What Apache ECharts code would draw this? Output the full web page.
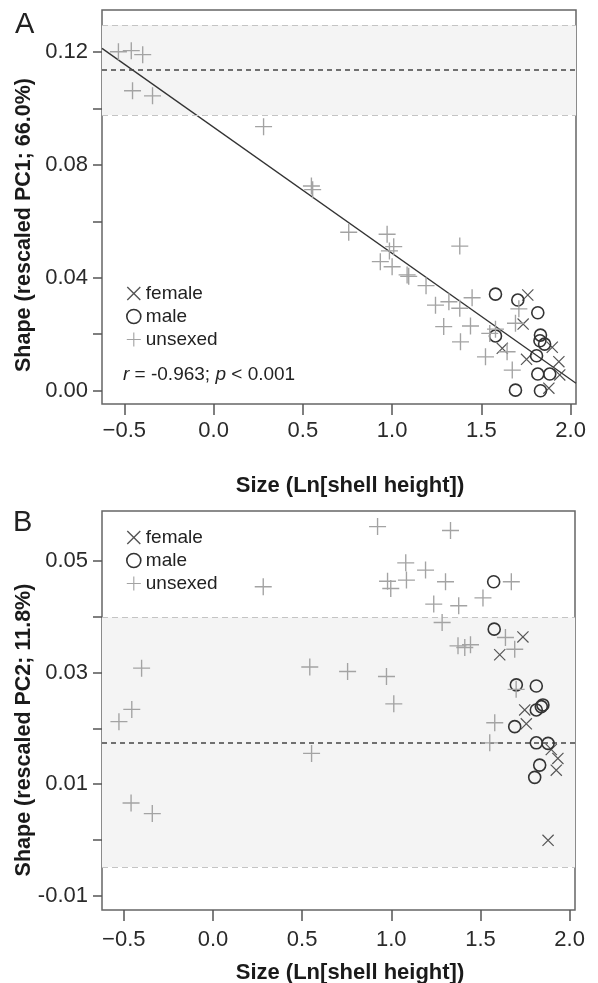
<!DOCTYPE html>
<html><head><meta charset="utf-8">
<script src="https://cdn.jsdelivr.net/npm/echarts@6/dist/echarts.min.js"></script>
<style>html,body{margin:0;padding:0;background:#fff}#c{width:598px;height:983px}</style>
</head><body><div id="c"></div>
<script>
// ---------- Data ----------
// Panel A: Shape (rescaled PC1) vs Size
const femaleA = [[1.760,0.0339],[1.734,0.0236],[1.617,0.0150],[1.753,0.0111],[1.897,0.0154],[1.934,0.0103],[1.939,0.0056],[1.878,0.0009]];
const maleA = [[1.579,0.0342],[1.704,0.0321],[1.816,0.0276],[1.579,0.0194],[1.831,0.0197],[1.828,0.0177],[1.854,0.0165],[1.809,0.0124],[1.816,0.0059],[1.883,0.0059],[1.691,0.0002],[1.831,0.0000]];
const unsexedA = [[-0.533,0.1200],[-0.461,0.1204],[-0.397,0.1190],[-0.454,0.1062],[-0.342,0.1044],[0.280,0.0935],[0.548,0.0725],[0.555,0.0712],[0.757,0.0561],[0.972,0.0554],[1.009,0.0510],[0.985,0.0495],[0.934,0.0457],[1.000,0.0439],[1.084,0.0410],[1.093,0.0405],[1.190,0.0372],[1.243,0.0303],[1.318,0.0315],[1.379,0.0292],[1.448,0.0329],[1.289,0.0227],[1.439,0.0229],[1.383,0.0173],[1.523,0.0120],[1.579,0.0218],[1.547,0.0203],[1.644,0.0138],[1.673,0.0073],[1.710,0.0290],[1.691,0.0239],[1.379,0.0512]];
const fitA = {slope: -0.04467, intercept: 0.0933};
const bandA = [0.0976, 0.1135, 0.1295];   // lower, mean, upper
// Panel B: Shape (rescaled PC2) vs Size
const femaleB = [[1.738,0.0364],[1.608,0.0332],[1.748,0.0233],[1.757,0.0208],[1.897,0.0162],[1.934,0.0146],[1.925,0.0125],[1.879,-0.0001]];
const maleB = [[1.574,0.0463],[1.577,0.0378],[1.701,0.0278],[1.813,0.0276],[1.813,0.0233],[1.841,0.0239],[1.850,0.0242],[1.692,0.0203],[1.813,0.0174],[1.879,0.0173],[1.832,0.0134],[1.804,0.0112]];
const unsexedB = [[0.282,0.0454],[-0.400,0.0308],[-0.455,0.0234],[-0.527,0.0212],[-0.459,0.0066],[-0.340,0.0047],[0.923,0.0562],[1.332,0.0555],[1.081,0.0497],[1.192,0.0484],[0.979,0.0464],[0.997,0.0451],[1.085,0.0466],[1.304,0.0463],[1.673,0.0463],[1.514,0.0434],[1.238,0.0423],[1.378,0.0420],[1.285,0.0390],[1.640,0.0363],[1.692,0.0342],[1.374,0.0348],[1.412,0.0345],[1.444,0.0350],[0.543,0.0310],[0.755,0.0302],[0.973,0.0293],[1.014,0.0244],[1.700,0.0270],[1.580,0.0210],[1.552,0.0174],[0.553,0.0155]];
const bandB = [-0.0049, 0.0175, 0.0399];
// Axis ticks
const xTicks = [-0.5, 0.0, 0.5, 1.0, 1.5, 2.0];
const yTicksA = [0.00, 0.02, 0.04, 0.06, 0.08, 0.10, 0.12];
const yLabelsA = [0.00, 0.04, 0.08, 0.12];
const yTicksB = [-0.01, 0.00, 0.01, 0.02, 0.03, 0.04, 0.05];
const yLabelsB = [-0.01, 0.01, 0.03, 0.05];
const seriesNames = ['female', 'male', 'unsexed'];

// ---------- Styling ----------
const FONT = 'Liberation Sans, Arial, sans-serif';
const PLUS = 'path://M4.6,0 H5.4 V4.6 H10 V5.4 H5.4 V10 H4.6 V5.4 H0 V4.6 H4.6 Z';
const CROSS = 'path://M0,0.7 L0.7,0 L10,9.3 L9.3,10 Z M9.3,0 L10,0.7 L0.7,10 L0,9.3 Z';
const cPlus = '#a3a3a3', cCircle = '#333333', cCross = '#555555';
const ext = {
  A: {xMin: -0.625, xMax: 2.03, yMin: -0.0047, yMax: 0.1348},
  B: {xMin: -0.622, xMax: 2.03, yMin: -0.0126, yMax: 0.059}
};
const fmtX = v => (v < 0 ? '\u2212' + Math.abs(v).toFixed(1) : v.toFixed(1));

function xAxis(idx, e, margin) {
  return {
    type: 'value', gridIndex: idx, min: e.xMin, max: e.xMax, position: 'bottom',
    axisLine: {show: false, onZero: false}, splitLine: {show: false},
    axisTick: {show: true, length: 11, customValues: xTicks, lineStyle: {color: '#555', width: 1.5}},
    axisLabel: {customValues: xTicks, formatter: fmtX, margin: margin, color: '#2a2a2a', fontSize: 22, fontFamily: FONT}
  };
}
function yAxis(idx, e, ticks, labels) {
  return {
    type: 'value', gridIndex: idx, min: e.yMin, max: e.yMax, position: 'left',
    axisLine: {show: false, onZero: false}, splitLine: {show: false},
    axisTick: {show: true, length: 9, customValues: ticks, lineStyle: {color: '#555', width: 1.5}},
    axisLabel: {customValues: labels, formatter: v => v.toFixed(2), margin: 14, color: '#2a2a2a', fontSize: 22, fontFamily: FONT}
  };
}
function pts(name, data, idx) {
  const base = {type: 'scatter', name: name, data: data, xAxisIndex: idx, yAxisIndex: idx, z: 5, silent: true, emphasis: {disabled: true}};
  if (name === 'female') return Object.assign(base, {symbol: CROSS, symbolSize: 12, itemStyle: {color: cCross, opacity: 1}});
  if (name === 'male') return Object.assign(base, {symbol: 'circle', symbolSize: 12, itemStyle: {color: 'rgba(0,0,0,0)', borderColor: cCircle, borderWidth: 1.6, opacity: 1}});
  return Object.assign(base, {symbol: PLUS, symbolSize: 17, itemStyle: {color: cPlus, opacity: 1}});
}
function band(idx, b) {
  return {
    type: 'scatter', name: 'band' + idx, data: [], xAxisIndex: idx, yAxisIndex: idx, z: 1, silent: true,
    markArea: {silent: true, itemStyle: {color: '#f4f4f4'}, data: [[{yAxis: b[0]}, {yAxis: b[2]}]]},
    markLine: {silent: true, symbol: 'none', precision: 6, label: {show: false},
      data: [
        {yAxis: b[0], lineStyle: {color: '#c4c4c4', type: [6, 4], width: 1}},
        {yAxis: b[2], lineStyle: {color: '#c4c4c4', type: [6, 4], width: 1}},
        {yAxis: b[1], lineStyle: {color: '#444', type: [5, 4], width: 1.5}}
      ]}
  };
}
function legend(top) {
  return {
    orient: 'vertical', left: 121, top: top, itemWidth: 14, itemHeight: 14, itemGap: 4, itemTextGap: 8,
    selectedMode: false,
    textStyle: {fontSize: 19, fontFamily: FONT, color: '#222', lineHeight: 14},
    data: [
      {name: 'female', icon: CROSS, itemStyle: {color: cCross}},
      {name: 'male', icon: 'circle', itemStyle: {color: 'rgba(0,0,0,0)', borderColor: cCircle, borderWidth: 1.6}},
      {name: 'unsexed', icon: PLUS, itemStyle: {color: cPlus}}
    ]
  };
}
const fitLine = [ext.A.xMin, ext.A.xMax].map(x => [x, fitA.intercept + fitA.slope * x]);

const option = {
  animation: false,
  backgroundColor: '#fff',
  grid: [
    {left: 102, top: 10, width: 474, height: 394, show: true, borderColor: '#666', borderWidth: 1.5, backgroundColor: 'transparent'},
    {left: 102, top: 511, width: 473, height: 399, show: true, borderColor: '#666', borderWidth: 1.5, backgroundColor: 'transparent'}
  ],
  xAxis: [xAxis(0, ext.A, 16), xAxis(1, ext.B, 19)],
  yAxis: [yAxis(0, ext.A, yTicksA, yLabelsA), yAxis(1, ext.B, yTicksB, yLabelsB)],
  legend: [legend(279), legend(523)],
  series: [
    band(0, bandA), band(1, bandB),
    {type: 'line', name: 'fit', data: fitLine, xAxisIndex: 0, yAxisIndex: 0, symbol: 'none', z: 4, silent: true,
     lineStyle: {color: '#333', width: 1.3}},
    pts('female', femaleA, 0), pts('male', maleA, 0), pts('unsexed', unsexedA, 0),
    pts('female', femaleB, 1), pts('male', maleB, 1), pts('unsexed', unsexedB, 1)
  ],
  graphic: [
    {type: 'text', x: 15, y: 10, style: {text: 'A', font: '29px ' + FONT, fill: '#222'}},
    {type: 'text', x: 13, y: 508, style: {text: 'B', font: '29px ' + FONT, fill: '#222'}},
    {type: 'text', x: 24, y: 225, rotation: Math.PI / 2, style: {text: 'Shape (rescaled PC1; 66.0%)', font: 'bold 21.5px ' + FONT, fill: '#1a1a1a', textAlign: 'center', textVerticalAlign: 'middle'}},
    {type: 'text', x: 24, y: 730, rotation: Math.PI / 2, style: {text: 'Shape (rescaled PC2; 11.8%)', font: 'bold 21.5px ' + FONT, fill: '#1a1a1a', textAlign: 'center', textVerticalAlign: 'middle'}},
    {type: 'text', x: 350, y: 486, style: {text: 'Size (Ln[shell height])', font: 'bold 22px ' + FONT, fill: '#1a1a1a', textAlign: 'center', textVerticalAlign: 'middle'}},
    {type: 'text', x: 350, y: 973, style: {text: 'Size (Ln[shell height])', font: 'bold 22px ' + FONT, fill: '#1a1a1a', textAlign: 'center', textVerticalAlign: 'middle'}},
    {type: 'text', x: 123, y: 375, style: {
      text: '{i|r} = -0.963; {i|p} < 0.001', font: '19px ' + FONT, fill: '#222', textVerticalAlign: 'middle',
      rich: {i: {fontStyle: 'italic', fontSize: 19, fontFamily: FONT, fill: '#222'}}}}
  ]
};
const chart = echarts.init(document.getElementById('c'), null, {renderer: 'canvas'});
chart.setOption(option);
</script>
</body></html>
